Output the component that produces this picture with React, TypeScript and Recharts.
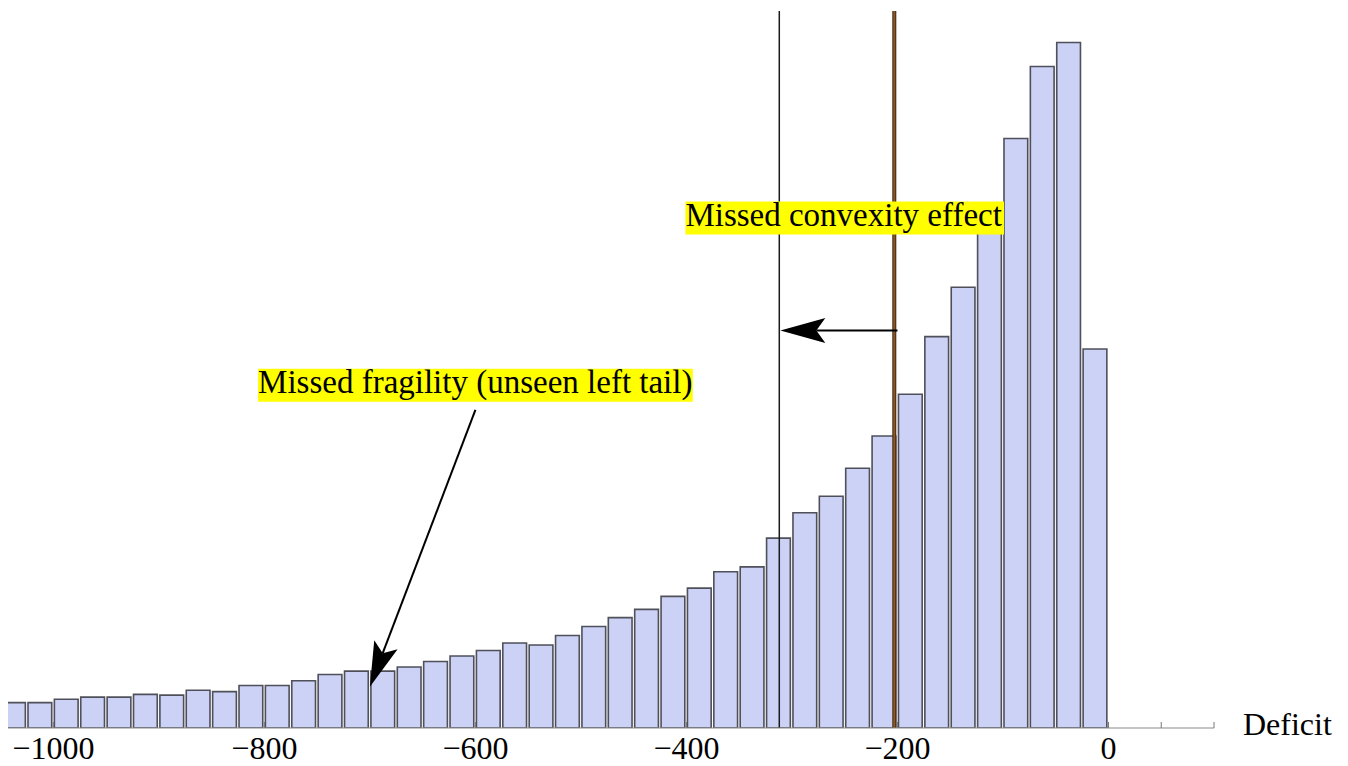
import React from "react";
import { ComposedChart, Bar, XAxis, YAxis, ReferenceLine, Label } from "recharts";

// histogram bins (left edge of each bin) and the counts
const binStarts = [
  -1050, -1025, -1000, -975, -950, -925, -900, -875, -850, -825, -800, -775,
  -750, -725, -700, -675, -650, -625, -600, -575, -550, -525, -500, -475,
  -450, -425, -400, -375, -350, -325, -300, -275, -250, -225, -200, -175,
  -150, -125, -100, -75, -50, -25,
];
const counts = [
  37, 37, 42, 45, 45, 49, 48, 55, 53, 62, 62, 69, 78, 83, 83, 89, 97, 105,
  113, 124, 121, 135, 148, 161, 173, 192, 204, 228, 235, 277, 314, 338, 379,
  426, 487, 571, 643, 738, 860, 965, 1000, 553,
];
const binWidth = 25;

const tickValues = [-1000, -800, -600, -400, -200, 0, 50, 100];
const labelledTicks = [-1000, -800, -600, -400, -200, 0];

// marker lines
const shiftedLine = -312;
const originalLine = -203;

// annotations (data coordinates)
const labels = [
  { text: "Missed convexity effect", x1: -401, x2: -99, y: 744 },
  { text: "Missed fragility (unseen left tail)", x1: -806, x2: -394, y: 500 },
];
const arrows = [
  { from: { x: -600, y: 464 }, to: { x: -700, y: 60 } },
  { from: { x: -200, y: 580 }, to: { x: -311, y: 580 } },
];

const xMin = -1043;
const xMax = 100;
const yMax = 1046;

const chartW = 1332;
const chartH = 758;
const margin = { top: 3, right: 126, left: 0, bottom: 0 };
const plotW = chartW - margin.left - margin.right;
const barPx = (binWidth * plotW) / (xMax - xMin);

const serif = "'Liberation Serif', 'Times New Roman', serif";

const data = binStarts.map((s, i) => ({ x: s + binWidth / 2, count: counts[i] }));

const fmt = (v: number) => (v < 0 ? "\u2212" + Math.abs(v) : String(v));

const AxisTick = (props: any) => {
  const { x, y, payload } = props;
  const v = payload.value;
  return (
    <g>
      <line x1={x} x2={x} y1={y} y2={y - 6} stroke="#777" strokeWidth={1} />
      {labelledTicks.includes(v) && (
        <text
          x={x}
          y={y + 31}
          textAnchor="middle"
          fontFamily={serif}
          fontSize={32}
          fill="#000"
        >
          {fmt(v)}
        </text>
      )}
    </g>
  );
};

const renderDeficit = (props: any) => {
  const vb = props.viewBox || {};
  return (
    <text
      x={vb.x + vb.width + 29}
      y={vb.y + 7}
      fontFamily={serif}
      fontSize={32}
      fill="#000"
    >
      Deficit
    </text>
  );
};

const arrowShape = (props: any) => {
  const { x1, y1, x2, y2 } = props;
  const dx = x2 - x1;
  const dy = y2 - y1;
  const len = Math.sqrt(dx * dx + dy * dy);
  const ux = dx / len;
  const uy = dy / len;
  const px = -uy;
  const py = ux;
  const head = 45;
  const half = 12.5;
  const bx = x2 - ux * head;
  const by = y2 - uy * head;
  const nx = x2 - ux * head * 0.8;
  const ny = y2 - uy * head * 0.8;
  const pts = [
    [x2, y2],
    [bx + px * half, by + py * half],
    [nx, ny],
    [bx - px * half, by - py * half],
  ]
    .map((p) => p.join(","))
    .join(" ");
  return (
    <g>
      <line x1={x1} y1={y1} x2={nx} y2={ny} stroke="#000" strokeWidth={2} />
      <polygon points={pts} fill="#000" />
    </g>
  );
};

const makeLabelShape = (text: string) => (props: any) => {
  const { x1, y1, x2 } = props;
  return (
    <g>
      <rect x={x1} y={y1 - 16.5} width={x2 - x1} height={33} fill="#ffff00" />
      <text x={x1} y={y1 + 8} fontFamily={serif} fontSize={33} fill="#000">
        {text}
      </text>
    </g>
  );
};

export default function App() {
  return (
    <div style={{ width: chartW, height: chartH }}>
      <style>{`html, body { overflow: hidden; }`}</style>
      <ComposedChart width={chartW} height={chartH} data={data} margin={margin}>
        <XAxis
          dataKey="x"
          type="number"
          domain={[xMin, xMax]}
          allowDataOverflow
          ticks={tickValues}
          interval={0}
          tickLine={false}
          tickSize={0}
          tickMargin={0}
          axisLine={{ stroke: "#8a8a8a", strokeWidth: 1.2 }}
          tick={(p: any) => <AxisTick {...p} />}
          height={chartH - margin.top - 717}
        >
          <Label content={renderDeficit} />
        </XAxis>
        <YAxis hide domain={[0, yMax]} allowDataOverflow />
        <Bar
          dataKey="count"
          fill="#cbd2f6"
          stroke="#3f3f48"
          strokeOpacity={0.9}
          strokeWidth={1.6}
          barSize={barPx}
          isAnimationActive={false}
        />
        <ReferenceLine x={shiftedLine} stroke="#1a1a1a" strokeWidth={1.5} />
        <ReferenceLine x={originalLine} stroke="#3d2712" strokeWidth={4} />
        <ReferenceLine x={originalLine} stroke="#8f5724" strokeWidth={2} />
        {labels.map((l) => (
          <ReferenceLine
            key={l.text}
            segment={[
              { x: l.x1, y: l.y },
              { x: l.x2, y: l.y },
            ]}
            shape={makeLabelShape(l.text)}
          />
        ))}
        {arrows.map((a, i) => (
          <ReferenceLine
            key={"arrow" + i}
            segment={[a.from, a.to]}
            shape={arrowShape}
          />
        ))}
      </ComposedChart>
    </div>
  );
}
